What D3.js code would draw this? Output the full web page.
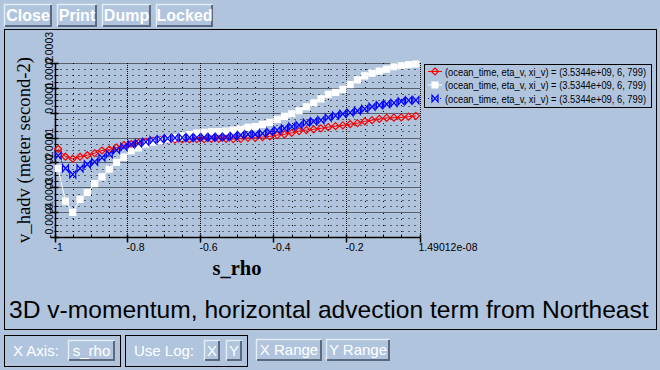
<!DOCTYPE html>
<html lang="en">
<head>
    <meta charset="UTF-8">
    <script src="https://d3js.org/d3.v7.min.js"></script>
    <title>v_hadv</title>
    <style>
        body{
            margin: 0;
            background-color: #b0c4de;
        }
    </style>
</head>
<body>
    <div id="chart"></div>
<script>
// s_rho levels (x values)
const sRho = [-0.99, -0.97, -0.95, -0.93, -0.91, -0.89, -0.87, -0.85, -0.83, -0.81,
              -0.79, -0.77, -0.75, -0.73, -0.71, -0.69, -0.67, -0.65, -0.63, -0.61,
              -0.59, -0.57, -0.55, -0.53, -0.51, -0.49, -0.47, -0.45, -0.43, -0.41,
              -0.39, -0.37, -0.35, -0.33, -0.31, -0.29, -0.27, -0.25, -0.23, -0.21,
              -0.19, -0.17, -0.15, -0.13, -0.11, -0.09, -0.07, -0.05, -0.03, -0.01];

// v_hadv values, in units of 1e-4 meter second-2
const unit = 1e-4;
const redVals = [-0.46, -0.77, -0.85, -0.77, -0.71, -0.63, -0.52, -0.48, -0.40, -0.30,
                 -0.26, -0.21, -0.17, -0.13, -0.10, -0.08, -0.08, -0.07, -0.07, -0.06,
                 -0.06, -0.05, -0.05, -0.05, -0.06, -0.05, -0.01, -0.01, 0.02, 0.05,
                 0.10, 0.13, 0.19, 0.26, 0.30, 0.33, 0.37, 0.42, 0.46, 0.49,
                 0.54, 0.58, 0.65, 0.70, 0.75, 0.79, 0.80, 0.81, 0.84, 0.87];
const whiteVals = [-1.24, -2.56, -3.01, -2.49, -2.21, -1.85, -1.58, -1.27, -1.00, -0.79,
                   -0.54, -0.42, -0.26, -0.18, -0.12, -0.06, 0.00, 0.06, 0.12, 0.18,
                   0.21, 0.23, 0.24, 0.26, 0.30, 0.34, 0.41, 0.44, 0.53, 0.61,
                   0.73, 0.85, 0.95, 1.08, 1.24, 1.40, 1.56, 1.74, 1.82, 1.94,
                   2.13, 2.32, 2.48, 2.59, 2.67, 2.75, 2.85, 2.89, 2.93, 2.96];
const blueVals = [-0.73, -1.24, -1.48, -1.24, -1.08, -0.98, -0.81, -0.67, -0.50, -0.37,
                  -0.27, -0.23, -0.17, -0.10, -0.06, -0.03, -0.01, 0.00, 0.00, 0.00,
                  0.01, 0.01, 0.02, 0.02, 0.06, 0.10, 0.13, 0.13, 0.17, 0.23,
                  0.30, 0.37, 0.44, 0.50, 0.60, 0.65, 0.70, 0.80, 0.88, 0.95,
                  1.00, 1.07, 1.15, 1.24, 1.31, 1.35, 1.40, 1.46, 1.50, 1.51];

const legendLabel = "(ocean_time, eta_v, xi_v) = (3.5344e+09, 6, 799)";

const xTicks = [-1, -0.8, -0.6, -0.4, -0.2, 1.49012e-08];
const xTickLabels = ["-1", "-0.8", "-0.6", "-0.4", "-0.2", "1.49012e-08"];
const yTicks = [-4e-4, -3e-4, -2e-4, -1e-4, 0, 1e-4, 2e-4, 3e-4];
const yTickLabels = ["-0.0004", "-0.0003", "-0.0002", "-0.0001", "0", "0.0001", "0.0002", "0.0003"];

const series = [
    {values: redVals, color: "#ff0000", marker: "diamond", dash: null},
    {values: whiteVals, color: "#ffffff", marker: "square", dash: null},
    {values: blueVals, color: "#0000ff", marker: "bowtie", dash: "1,2"}
];

const sans = "'Liberation Sans', Arial, sans-serif";
const serif = "'Liberation Serif', 'Times New Roman', serif";

const svg = d3.select("#chart").append("svg").attr("width", 660).attr("height", 370)
              .attr("font-family", sans);

// --- toolbar buttons ---
function button(x, y, w, h, label, size, bold){
    const g = svg.append("g").attr("transform", `translate(${x},${y})`);
    g.append("rect").attr("width", w).attr("height", h).attr("fill", "#b0c4de");
    g.append("path").attr("d", `M0.5,${h - 0.5}V0.5H${w - 0.5}`).attr("fill", "none")
     .attr("stroke", "#e4ecf6").attr("stroke-width", 1.5);
    g.append("path").attr("d", `M1,${h - 1}H${w - 1}V1`).attr("fill", "none")
     .attr("stroke", "#5c6a80").attr("stroke-width", 2);
    g.append("text").attr("x", w / 2).attr("y", h / 2 + size * 0.36)
     .attr("text-anchor", "middle").attr("fill", "#ffffff")
     .attr("font-size", size).attr("font-weight", bold ? "bold" : "normal").text(label);
}
button(4, 4, 48, 23, "Close", 16, true);
button(57, 4, 40, 23, "Print", 16, true);
button(102, 4, 49, 23, "Dump", 16, true);
button(156, 4, 57, 23, "Locked", 16, true);

// --- frame ---
svg.append("defs").append("clipPath").attr("id", "frameClip")
   .append("rect").attr("x", 5).attr("y", 30).attr("width", 651).attr("height", 299);
svg.append("rect").attr("x", 4.5).attr("y", 29.5).attr("width", 652).attr("height", 300)
   .attr("fill", "none").attr("stroke", "#000");

// --- scales ---
const x = d3.scaleLinear().domain([-1, 1.49012e-08]).range([54.5, 419.5]);
const y = d3.scaleLinear().domain([-4e-4, 3e-4]).range([237, 63]);

const plot = svg.append("g");

// minor grid
const xMinor = d3.range(-1, 0.001, 0.05).filter(v => !xTicks.some(t => Math.abs(t - v) < 1e-6));
const yMinor = d3.range(-4e-4, 3.01e-4, 0.25e-4).filter(v => !yTicks.some(t => Math.abs(t - v) < 1e-9));
plot.selectAll(".vminor").data(xMinor).join("line")
    .attr("x1", d => Math.round(x(d)) + 0.5).attr("x2", d => Math.round(x(d)) + 0.5)
    .attr("y1", y(3e-4)).attr("y2", y(-4e-4))
    .attr("stroke", "#000").attr("stroke-dasharray", "1,5");
plot.selectAll(".hminor").data(yMinor).join("line")
    .attr("y1", d => Math.round(y(d)) + 0.5).attr("y2", d => Math.round(y(d)) + 0.5)
    .attr("x1", x(-1)).attr("x2", x(0))
    .attr("stroke", "#000").attr("stroke-dasharray", "1,5");

// major grid
plot.selectAll(".vmajor").data(xTicks.slice(1)).join("line")
    .attr("x1", d => Math.round(x(d)) + 0.5).attr("x2", d => Math.round(x(d)) + 0.5)
    .attr("y1", y(3e-4)).attr("y2", y(-4e-4))
    .attr("stroke", "#000").attr("stroke-dasharray", "1,1");
plot.selectAll(".hmajor").data(yTicks.slice(1)).join("line")
    .attr("y1", d => Math.round(y(d)) + 0.5).attr("y2", d => Math.round(y(d)) + 0.5)
    .attr("x1", x(-1)).attr("x2", x(0))
    .attr("stroke", "#000").attr("stroke-dasharray", "1,1");

// axes
const xAxisY = Math.round(y(-4e-4)) + 0.5;
const yAxisX = Math.round(x(-1)) + 0.5;
plot.append("line").attr("x1", yAxisX).attr("x2", x(0) + 1).attr("y1", xAxisY).attr("y2", xAxisY)
    .attr("stroke", "#000").attr("stroke-width", 1.5);
plot.append("line").attr("x1", yAxisX).attr("x2", yAxisX).attr("y1", y(3e-4)).attr("y2", xAxisY)
    .attr("stroke", "#000").attr("stroke-width", 1.5);

plot.selectAll(".xtick").data(xTicks).join("line")
    .attr("x1", d => Math.round(x(d)) + 0.5).attr("x2", d => Math.round(x(d)) + 0.5)
    .attr("y1", xAxisY - 3).attr("y2", xAxisY + 5).attr("stroke", "#000").attr("stroke-width", 1.5);
plot.selectAll(".xmtick").data(xMinor).join("line")
    .attr("x1", d => Math.round(x(d)) + 0.5).attr("x2", d => Math.round(x(d)) + 0.5)
    .attr("y1", xAxisY - 3).attr("y2", xAxisY).attr("stroke", "#000");
plot.selectAll(".ytick").data(yTicks).join("line")
    .attr("y1", d => Math.round(y(d)) + 0.5).attr("y2", d => Math.round(y(d)) + 0.5)
    .attr("x1", yAxisX - 5).attr("x2", yAxisX + 3).attr("stroke", "#000").attr("stroke-width", 1.5);
plot.selectAll(".ymtick").data(yMinor).join("line")
    .attr("y1", d => Math.round(y(d)) + 0.5).attr("y2", d => Math.round(y(d)) + 0.5)
    .attr("x1", yAxisX).attr("x2", yAxisX + 3).attr("stroke", "#000");

// tick labels
plot.selectAll(".xlabel").data(xTicks).join("text")
    .attr("x", d => x(d) - 1).attr("y", 251)
    .attr("font-size", 10.5).attr("fill", "#000")
    .text((d, i) => xTickLabels[i]);
plot.selectAll(".ylabel").data(yTicks).join("text")
    .attr("transform", d => `translate(52.5,${y(d) + 1}) rotate(-90)`)
    .attr("font-size", 10.5).attr("fill", "#000")
    .text((d, i) => yTickLabels[i]);

// axis titles
svg.append("text").attr("x", (x(-1) + x(0)) / 2).attr("y", 275)
   .attr("text-anchor", "middle").attr("font-family", serif)
   .attr("font-weight", "bold").attr("font-size", 20.5).text("s_rho");
svg.append("text").attr("transform", `translate(30,${(y(3e-4) + y(-4e-4)) / 2}) rotate(-90)`)
   .attr("text-anchor", "middle").attr("font-family", serif)
   .attr("font-size", 18.6).text("v_hadv (meter second-2)");

// --- data lines and markers ---
function markerPath(kind, s){
    if (kind === "diamond") return `M0,${-s}L${s},0L0,${s}L${-s},0Z`;
    if (kind === "square") return `M${-s + 0.5},${-s + 0.5}h${2 * s - 1}v${2 * s - 1}h${-2 * s + 1}Z`;
    return `M${-s + 0.5},${-s}V${s}L${s - 0.5},${-s}V${s}Z`;
}

const line = d3.line().x((d, i) => x(sRho[i])).y(d => y(d * unit));

series.forEach(s => {
    const g = plot.append("g");
    g.append("path").datum(s.values)
     .attr("fill", "none").attr("stroke", s.color).attr("stroke-width", 1)
     .attr("stroke-dasharray", s.dash).attr("d", line);
    g.selectAll("path.m").data(s.values).join("path").attr("class", "m")
     .attr("transform", (d, i) => `translate(${x(sRho[i])},${y(d * unit)})`)
     .attr("d", markerPath(s.marker, 3.5))
     .attr("fill", s.marker === "square" ? s.color : "none")
     .attr("stroke", s.color).attr("stroke-width", 1.2);
});

// --- legend ---
const legend = svg.append("g");
legend.append("rect").attr("x", 424.5).attr("y", 64.5).attr("width", 227).attr("height", 43)
      .attr("fill", "none").attr("stroke", "#000");
series.forEach((s, i) => {
    const ly = 71.5 + i * 13.5;
    legend.append("line").attr("x1", 428).attr("x2", 442).attr("y1", ly).attr("y2", ly)
          .attr("stroke", s.color).attr("stroke-dasharray", s.dash);
    legend.append("path").attr("transform", `translate(435,${ly})`)
          .attr("d", markerPath(s.marker, 3.5))
          .attr("fill", s.marker === "square" ? s.color : "none")
          .attr("stroke", s.color).attr("stroke-width", 1.2);
    legend.append("text").attr("x", 445).attr("y", ly + 4).attr("font-size", 10)
          .attr("textLength", 201).attr("lengthAdjust", "spacingAndGlyphs")
          .attr("fill", "#000").text(legendLabel);
});

// --- long title, clipped by the frame ---
svg.append("text").attr("x", 9).attr("y", 318).attr("clip-path", "url(#frameClip)")
   .attr("font-size", 24.6).attr("fill", "#000")
   .text("3D v-momentum, horizontal advection term from Northeast Pacific");

// --- bottom controls ---
svg.append("rect").attr("x", 4.5).attr("y", 335.5).attr("width", 116).attr("height", 31)
   .attr("fill", "none").attr("stroke", "#000");
svg.append("text").attr("x", 13).attr("y", 356).attr("font-size", 15).attr("fill", "#ffffff").text("X Axis:");
button(68, 340, 47, 21, "s_rho", 15, false);

svg.append("rect").attr("x", 125.5).attr("y", 335.5).attr("width", 122).attr("height", 31)
   .attr("fill", "none").attr("stroke", "#000");
svg.append("text").attr("x", 134).attr("y", 356).attr("font-size", 15).attr("fill", "#ffffff").text("Use Log:");
button(204, 340, 16, 21, "X", 15, false);
button(226, 340, 16, 21, "Y", 15, false);

button(256, 339, 66, 22, "X Range", 15, false);
button(326, 339, 64, 22, "Y Range", 15, false);
</script>
</body>
</html>
